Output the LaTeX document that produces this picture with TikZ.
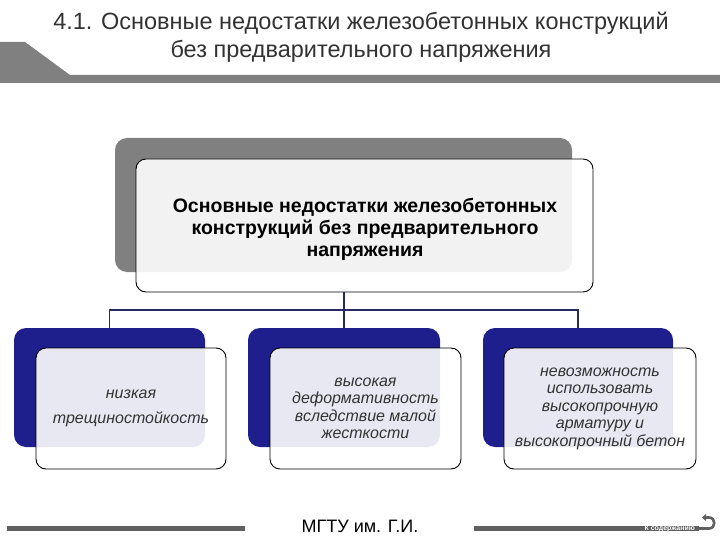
\documentclass[tikz,border=0pt]{standalone}
\usepackage{fontspec}
\setmainfont{Liberation Sans}
\usetikzlibrary{arrows.meta}
\definecolor{navy}{RGB}{30,30,140}
\definecolor{conn}{RGB}{40,40,100}
\definecolor{backgray}{RGB}{128,128,128}
\definecolor{bargray}{RGB}{96,96,96}
\definecolor{titlegray}{RGB}{50,50,50}
\tikzset{
  backbox/.style={rounded corners=12pt, inner sep=0pt},
  frontbox/.style={rounded corners=10pt, draw=black, line width=0.9pt, fill=white, fill opacity=0.9, text opacity=1, inner sep=0pt, align=center},
  smalltxt/.style={font=\fontsize{16}{17.5}\selectfont\itshape, text=black!80},
  conline/.style={draw=conn, line width=1.8pt},
}
\begin{document}
\begin{tikzpicture}[x=1pt,y=-1pt]
\useasboundingbox (0,0) rectangle (720,540);
% header banner
\fill[backgray] (0,42) -- (25,42) -- (70,75) -- (720,75) -- (720,83) -- (0,83) -- cycle;
\node[text=titlegray, font=\fontsize{23.5}{28}\selectfont, align=center] (title) at (361,37)
  {4.1. Основные недостатки железобетонных конструкций\\без предварительного напряжения};
% top box
\node[backbox, fill=backgray, minimum width=457pt, minimum height=134pt] (tb) at (343.5,205) {};
\node[frontbox, minimum width=457pt, minimum height=133pt] (tf) at (364.5,225.5) {};
\node[font=\fontsize{19.5}{22}\selectfont\bfseries, align=center] (tt) at (365,229)
  {Основные недостатки железобетонных\\конструкций без предварительного\\напряжения};
% bottom back boxes
\node[backbox, fill=navy, minimum width=191pt, minimum height=119pt] (b1) at (109.5,387.5) {};
\node[backbox, fill=navy, minimum width=192pt, minimum height=119pt] (b2) at (344,387.5) {};
\node[backbox, fill=navy, minimum width=190pt, minimum height=119pt] (b3) at (578,387.5) {};
% front boxes
\node[frontbox, smalltxt, minimum width=190pt, minimum height=121pt] (f1) at (131,408.5)
  {низкая\\[7pt]трещиностойкость};
\node[frontbox, smalltxt, minimum width=191pt, minimum height=121pt] (f2) at (365.5,408.5)
  {высокая\\деформативность\\вследствие малой\\жесткости};
\node[frontbox, smalltxt, minimum width=192pt, minimum height=121pt] (f3) at (600,408.5)
  {невозможность\\использовать\\высокопрочную\\арматуру и\\высокопрочный бетон};
% connectors
\coordinate (hy) at (0,310);
\draw[conline] (tf.south -| b2.north) -- (b2.north);
\draw[conline] (b1.north) |- (b3.north |- hy) -- (b3.north);
% footer
\fill[bargray] (7,526) rectangle (245,531);
\fill[bargray] (474,526) rectangle (699,531);
\node[font=\fontsize{18}{20}\selectfont, text=black] (mgtu) at (360,526) {МГТУ им. Г.И.};
\node[font=\fontsize{7}{8}\selectfont\bfseries, text=white, anchor=east, inner sep=1pt] (back) at (696,528.5) {К содержанию};
\draw[bargray, line width=2.6pt, -{Triangle[length=4pt,width=7pt]}] (699,528.5) -- (709,528.5) .. controls (716,528.5) and (716,517.5) .. (709,517.5) -- (702,517.5);
\end{tikzpicture}
\end{document}
